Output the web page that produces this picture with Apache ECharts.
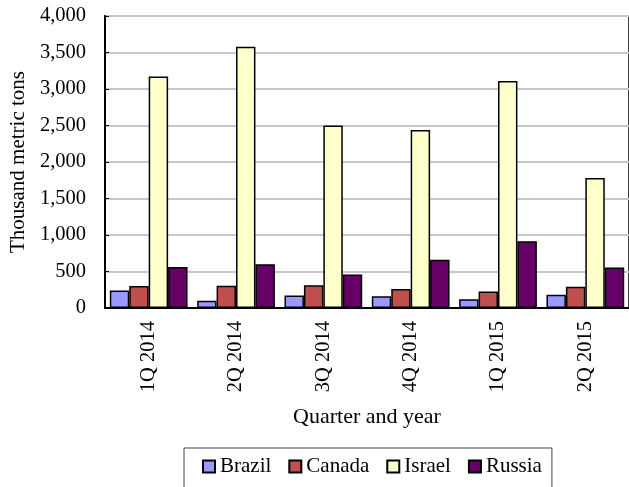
<!DOCTYPE html>
<html><head><meta charset="utf-8">
<script src="https://cdn.jsdelivr.net/npm/echarts@6/dist/echarts.min.js"></script>
<style>html,body{margin:0;padding:0;background:#fff}#c{width:629px;height:487px}</style>
</head><body><div id="c"></div>
<script>
const categories = ["1Q 2014","2Q 2014","3Q 2014","4Q 2014","1Q 2015","2Q 2015"];
const brazil = [240, 100, 170, 160, 120, 180];
const canada = [300, 305, 310, 260, 225, 290];
const israel = [3170, 3580, 2500, 2440, 3110, 1780];
const russia = [560, 600, 460, 660, 915, 555];
const seriesNames = ["Brazil","Canada","Israel","Russia"];
const colors = ["#9999FF","#C0504D","#FFFFCC","#660066"];
const FONT = "Liberation Serif";
const chart = echarts.init(document.getElementById('c'));
const datas = [brazil, canada, israel, russia];
chart.setOption({
  animation: false,
  textStyle: {fontFamily: FONT, color: '#000'},
  grid: {left: 102, right: -1, top: 16, bottom: 179, show: true, borderColor: '#000', borderWidth: 1.5},
  legend: {
    left: 184, top: 448, padding: [8, 10, 20, 18], itemGap: 17,
    borderColor: '#444', borderWidth: 1,
    itemWidth: 12, itemHeight: 12, icon: 'rect',
    textStyle: {fontFamily: FONT, fontSize: 21, color: '#000'},
    data: seriesNames
  },
  xAxis: {
    type: 'category', data: categories,
    name: 'Quarter and year', nameLocation: 'middle', nameGap: 98,
    nameTextStyle: {fontFamily: FONT, fontSize: 22, color: '#000'},
    axisLine: {lineStyle: {color: '#000', width: 2}},
    axisTick: {inside: true, length: 5, lineStyle: {color: '#000'}},
    axisLabel: {rotate: 90, fontFamily: FONT, fontSize: 20.5, color: '#000', margin: 13}
  },
  yAxis: {
    type: 'value', min: 0, max: 4000, interval: 500,
    name: 'Thousand metric tons', nameLocation: 'middle', nameGap: 76, nameRotate: 90,
    nameTextStyle: {fontFamily: FONT, fontSize: 21, color: '#000'},
    axisLine: {show: true, lineStyle: {color: '#000', width: 2}},
    axisTick: {show: true, inside: true, length: 4, lineStyle: {color: '#000'}},
    axisLabel: {fontFamily: FONT, fontSize: 20.5, color: '#000', margin: 19,
      formatter: v => v.toLocaleString('en-US')},
    splitLine: {lineStyle: {color: '#c8c8c8', width: 2}}
  },
  series: seriesNames.map((n, i) => ({
    name: n, type: 'bar', data: datas[i],
    barGap: '0%', barCategoryGap: '11%',
    itemStyle: {color: colors[i], borderColor: '#000', borderWidth: 1.5}
  }))
});
</script></body></html>
